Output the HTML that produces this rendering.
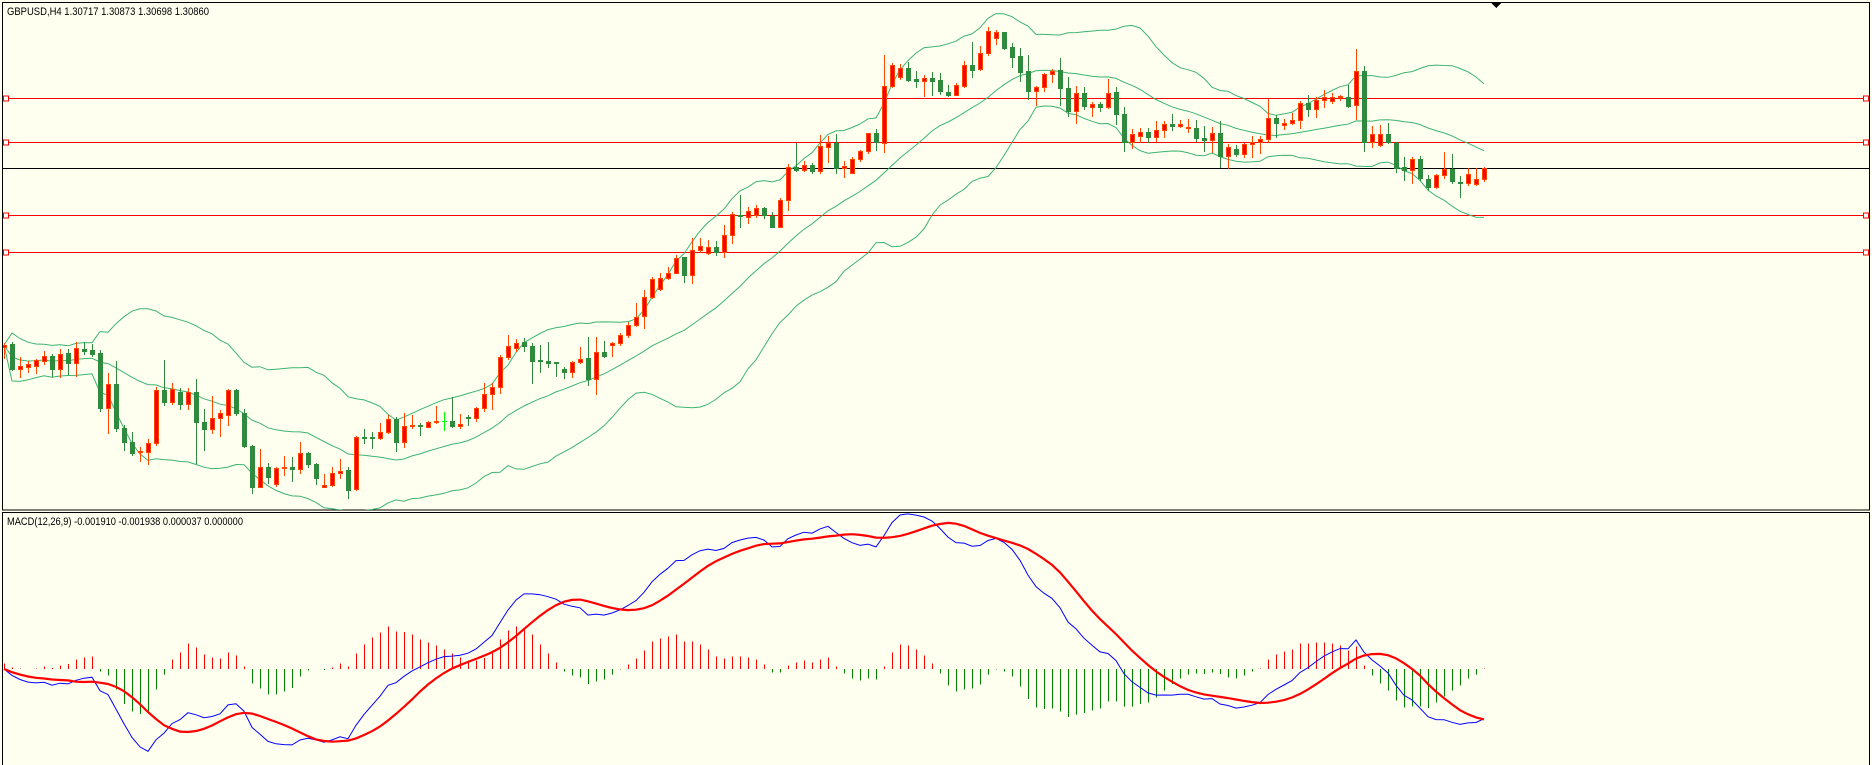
<!DOCTYPE html>
<html><head><meta charset="utf-8"><title>GBPUSD H4</title>
<style>html,body{margin:0;padding:0;background:#fffff0;}svg{display:block;font-family:"Liberation Sans",sans-serif;}</style>
</head><body>
<svg id="chart" xmlns="http://www.w3.org/2000/svg" width="1872" height="765" viewBox="0 0 1872 765" shape-rendering="crispEdges">
<rect x="0" y="0" width="1872" height="765" fill="#fffff0"/>
<defs>
<clipPath id="mainClip"><rect x="3" y="3" width="1866" height="507"/></clipPath>
<clipPath id="macdClip"><rect x="3" y="513" width="1866" height="252"/></clipPath>
</defs>
<rect x="2.5" y="2.5" width="1867" height="507.5" fill="none" stroke="#000"/>
<rect x="2.5" y="512.5" width="1867" height="260" fill="none" stroke="#000"/>
<g id="levels"></g>
<g id="bands" clip-path="url(#mainClip)"></g>
<g id="candles" clip-path="url(#mainClip)"></g>
<g id="macd" clip-path="url(#macdClip)"></g>
<polygon points="1491,3 1501,3 1496,8" fill="#000"/>
<text x="7" y="15" font-size="11" fill="#000" textLength="202" lengthAdjust="spacingAndGlyphs">GBPUSD,H4  1.30717 1.30873 1.30698 1.30860</text>
<text x="7" y="525" font-size="11" fill="#000" textLength="236" lengthAdjust="spacingAndGlyphs">MACD(12,26,9) -0.001910 -0.001938 0.000037 0.000000</text>
</svg>
<script>
const openS=[2907,2910,2885,2887,2888,2893,2898,2885,2901,2891,2905,2904,2901,2846,2870,2826,2812,2802,2802,2811,2864,2852,2862,2850,2862,2832,2825,2836,2839,2864,2841,2808,2767,2787,2770,2786,2787,2785,2801,2790,2767,2769,2781,2784,2765,2817,2817,2816,2822,2835,2812,2828,2829,2827,2832,2833,2833,2828,2837,2836,2846,2860,2867,2897,2906,2912,2908,2894,2893,2892,2885,2882,2892,2896,2875,2902,2909,2911,2919,2929,2938,2957,2965,2976,2981,2997,2979,3004,3001,3007,3002,3019,3039,3037,3039,3046,3038,3027,3054,3087,3084,3089,3083,3107,3111,3086,3081,3095,3103,3121,3111,3168,3177,3186,3175,3173,3176,3174,3162,3159,3168,3189,3185,3201,3216,3222,3207,3198,3183,3163,3167,3180,3184,3166,3143,3161,3147,3150,3147,3162,3140,3112,3118,3122,3117,3124,3130,3128,3126,3126,3116,3114,3121,3098,3105,3100,3110,3112,3115,3136,3129,3131,3134,3151,3145,3154,3153,3157,3157,3149,3183,3112,3109,3120,3111,3087,3084,3095,3075,3067,3079,3085,3072,3071,3070,3075];
const highS=[2911,2912,2897,2893,2895,2903,2900,2905,2905,2912,2912,2910,2904,2881,2893,2829,2822,2807,2815,2867,2894,2871,2866,2866,2875,2845,2858,2844,2865,2865,2845,2809,2805,2791,2787,2798,2797,2812,2802,2791,2780,2787,2795,2787,2818,2825,2822,2831,2839,2837,2841,2839,2831,2833,2848,2842,2857,2840,2839,2847,2871,2871,2899,2919,2915,2916,2911,2909,2912,2892,2887,2893,2907,2917,2917,2913,2912,2921,2932,2951,2964,2977,2981,2987,2999,2997,3016,3016,3014,3013,3029,3042,3059,3047,3049,3047,3042,3056,3090,3111,3093,3091,3119,3118,3120,3093,3097,3104,3121,3125,3199,3191,3190,3192,3183,3179,3182,3181,3169,3171,3193,3212,3208,3227,3224,3222,3211,3206,3199,3168,3181,3185,3196,3177,3168,3167,3152,3152,3175,3167,3147,3125,3126,3126,3133,3133,3140,3134,3135,3134,3128,3127,3133,3110,3109,3111,3118,3118,3155,3139,3135,3141,3153,3159,3157,3164,3161,3159,3169,3205,3188,3128,3129,3131,3112,3097,3097,3098,3079,3080,3102,3100,3078,3086,3086,3087];
const lowS=[2896,2884,2877,2882,2881,2890,2878,2877,2880,2878,2900,2898,2843,2821,2823,2804,2799,2793,2790,2809,2849,2850,2845,2845,2791,2804,2821,2818,2829,2839,2807,2761,2767,2771,2768,2779,2773,2781,2787,2770,2767,2768,2776,2756,2764,2811,2806,2815,2821,2803,2807,2826,2819,2827,2831,2824,2827,2826,2829,2833,2843,2845,2861,2895,2903,2903,2871,2882,2887,2878,2876,2877,2891,2869,2860,2897,2898,2909,2917,2928,2926,2956,2964,2975,2981,2972,2971,3002,3000,2999,2997,3011,3027,3031,3037,3036,3027,3027,3044,3083,3083,3081,3081,3092,3081,3077,3081,3093,3101,3104,3102,3167,3175,3173,3167,3158,3159,3160,3158,3159,3167,3177,3184,3199,3210,3205,3187,3173,3155,3149,3163,3172,3149,3138,3131,3145,3138,3143,3146,3130,3103,3106,3112,3112,3113,3117,3124,3127,3122,3113,3103,3102,3087,3086,3098,3097,3097,3101,3112,3117,3125,3130,3126,3138,3137,3147,3151,3154,3147,3135,3103,3107,3108,3111,3082,3074,3071,3074,3064,3066,3076,3071,3057,3069,3069,3073];
const closeS=[2909,2885,2888,2890,2894,2898,2885,2900,2891,2906,2903,2900,2846,2870,2826,2812,2801,2803,2811,2864,2852,2865,2850,2862,2832,2825,2836,2841,2864,2841,2808,2767,2787,2777,2786,2787,2785,2801,2790,2776,2769,2781,2783,2764,2817,2816,2816,2822,2835,2812,2828,2829,2828,2832,2833,2833,2828,2830,2836,2846,2860,2867,2897,2908,2911,2908,2893,2893,2891,2891,2882,2892,2895,2875,2902,2898,2911,2919,2929,2937,2957,2975,2976,2981,2996,2979,3004,3008,3007,3002,3019,3040,3038,3043,3046,3039,3027,3054,3087,3084,3089,3083,3108,3111,3086,3088,3095,3103,3121,3112,3168,3189,3186,3174,3173,3176,3173,3163,3159,3169,3189,3184,3201,3223,3222,3206,3197,3182,3163,3167,3180,3183,3166,3143,3161,3148,3150,3147,3161,3140,3112,3120,3122,3117,3124,3130,3128,3130,3127,3116,3114,3121,3098,3107,3100,3110,3112,3115,3136,3131,3131,3134,3151,3145,3154,3157,3157,3158,3148,3183,3112,3120,3120,3112,3086,3084,3095,3076,3067,3079,3085,3073,3071,3080,3075,3086];
// histogram values in points (1e-5)
const histPoints=[16,5,2,0,2,7,3,11,15,29,35,38,-7,-19,-61,-105,-127,-135,-127,-61,-17,28,50,77,65,43,35,31,50,41,7,-43,-58,-77,-77,-67,-57,-23,-5,0,-3,5,17,8,47,73,95,110,127,113,111,103,88,79,70,58,47,35,26,26,33,56,89,115,127,123,103,73,46,19,-7,-19,-25,-45,-37,-31,-17,-2,13,31,55,83,91,97,103,83,83,73,58,37,31,37,37,34,28,13,-10,-10,10,19,25,19,28,34,7,-13,-28,-34,-28,-31,7,49,73,70,58,40,16,-13,-49,-67,-61,-58,-46,-16,-2,-7,-22,-52,-90,-115,-120,-118,-127,-144,-136,-132,-124,-118,-97,-97,-112,-112,-105,-100,-85,-64,-45,-29,-16,-13,-15,-10,-15,-25,-28,-19,-7,2,28,43,53,58,76,76,79,79,76,70,55,68,10,-19,-43,-64,-94,-115,-112,-112,-117,-100,-82,-64,-49,-28,-16,1];
const levelPrices=[1.3156,1.3112,1.3039,1.3002];
const bidPrice=1.3086;

const toP=v=>1+v/10000;
const opens=openS.map(toP),highs=highS.map(toP),lows=lowS.map(toP),closes=closeS.map(toP);
const NS='http://www.w3.org/2000/svg';
const xPos=i=>4+i*8;
const yP=p=>Math.round((1.3254-p)*10000);
const ZERO=669;
const yM=v=>ZERO-v*1e5/3;
function mk(tag,attrs,parent){const e=document.createElementNS(NS,tag);for(const k in attrs)e.setAttribute(k,attrs[k]);parent.appendChild(e);return e;}

// levels
const lv=document.getElementById('levels');
levelPrices.forEach((p,k)=>{
  const y=yP(p)+0.5;
  const l=mk('line',{x1:3,x2:1869,y1:y,y2:y,stroke:'#ff0000','stroke-width':1},lv);
  
  
  [6,1866].forEach(cx=>{
    const s=mk('rect',{x:cx-2.5,y:y-2.5,width:5,height:5,fill:'#fff',stroke:'#ff0000'},lv);
    
    
  });
});
{const y=yP(bidPrice)+0.5;
const b=mk('line',{x1:3,x2:1869,y1:y,y2:y,stroke:'#000','stroke-width':1},lv);

}

// bollinger
const N=closes.length;
const mid=[],up=[],lo=[];
for(let i=0;i<N;i++){
  const s=Math.max(0,i-19);const w=closes.slice(s,i+1);
  const m=w.reduce((a,b)=>a+b,0)/w.length;
  const sd=Math.sqrt(w.reduce((a,b)=>a+(b-m)*(b-m),0)/w.length);
  mid.push(m);up.push(m+2*sd);lo.push(m-2*sd);
}
const bg=document.getElementById('bands');
[['bollinger-upper',up],['bollinger-middle',mid],['bollinger-lower',lo]].forEach(([nm,arr])=>{
  const d=arr.map((v,i)=>(i?'L':'M')+xPos(i)+','+((1.3254-v)*10000).toFixed(1)).join('');
  const p=mk('path',{d:d,fill:'none',stroke:'#3cb371','stroke-width':1,'shape-rendering':'auto'},bg);
  
  
});

// candles
const cg=document.getElementById('candles');
for(let i=0;i<N;i++){
  const x=xPos(i);const o=opens[i],c=closes[i];
  const bull=c>o,doji=c===o;
  const wc=doji?'#00ff00':(bull?'#ff4500':'#2e8b3e');
  const fc=doji?'#00ff00':(bull?'#ff0000':'#2e8b3e');
  const g=mk('g',{},cg);
  
  
  mk('line',{x1:x+0.5,x2:x+0.5,y1:yP(highs[i]),y2:yP(lows[i])+1,stroke:wc},g);
  const yt=Math.min(yP(o),yP(c)),yb=Math.max(yP(o),yP(c));
  if(yb-yt<1){mk('line',{x1:x-2,x2:x+3,y1:yt+0.5,y2:yt+0.5,stroke:wc},g);}
  else mk('rect',{x:x-1.5,y:yt+0.5,width:4,height:yb-yt,fill:fc,stroke:wc},g);
}

// MACD
const mg=document.getElementById('macd');
let e12=closes[0],e26=closes[0];const macdLine=[],sig=[];
for(let i=0;i<N;i++){
  e12=e12+(closes[i]-e12)*2/13;e26=e26+(closes[i]-e26)*2/27;
  macdLine.push(e12-e26);
  const s=Math.max(0,i-8);const w=macdLine.slice(s,i+1);
  sig.push(w.reduce((a,b)=>a+b,0)/w.length);
}
histPoints.forEach((h,i)=>{
  if(h===0)return;
  const x=xPos(i)+0.5;const v=h/1e5;
  const l=mk('line',{x1:x,x2:x,y1:ZERO,y2:yM(v),stroke:h>0?'#ff0000':'#008000'},mg);
  
  
});
const pathOf=arr=>arr.map((v,i)=>(i?'L':'M')+xPos(i)+','+yM(v).toFixed(1)).join('');
const bl=mk('path',{d:pathOf(macdLine),fill:'none',stroke:'#0000ff','stroke-width':1,'shape-rendering':'auto'},mg);


const rl=mk('path',{d:pathOf(sig),fill:'none',stroke:'#ff0000','stroke-width':2.2,'shape-rendering':'auto'},mg);


</script>
</body></html>
